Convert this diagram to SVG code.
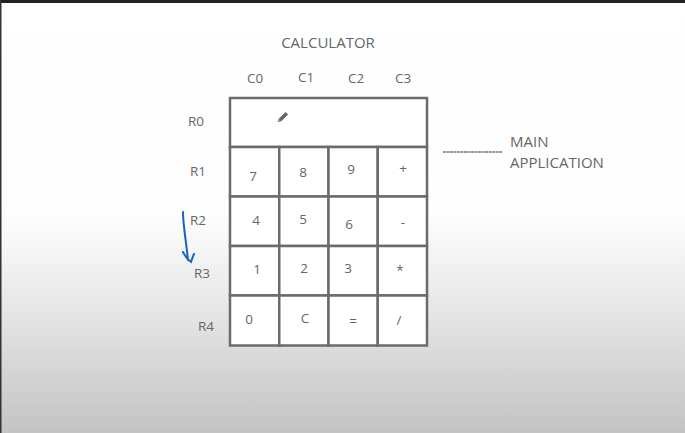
<svg xmlns="http://www.w3.org/2000/svg" width="685" height="433" viewBox="0 0 685 433">
<defs>
<linearGradient id="bg" x1="0" y1="0" x2="0" y2="1">
<stop offset="0" stop-color="#ffffff"/>
<stop offset="0.5" stop-color="#fdfdfd"/>
<stop offset="0.7" stop-color="#e8e8e8"/>
<stop offset="1" stop-color="#c3c3c3"/>
</linearGradient>
<style>
.t{font-family:"Open Sans","Liberation Sans",sans-serif;fill:#666;font-size:13.5px;text-anchor:middle}
.h{font-size:15px}
.c{fill:#ffffff;stroke:#6b6b6b;stroke-width:2.5}
</style>
</defs>
<rect x="0" y="0" width="685" height="433" fill="url(#bg)"/>
<rect x="0" y="0" width="685" height="3" fill="#222"/>
<rect x="0" y="0" width="1.5" height="433" fill="#333"/>

<g id="title"><text class="t h" x="328" y="48">CALCULATOR</text></g>
<g id="col-labels">
<text class="t" x="255" y="83">C0</text>
<text class="t" x="306" y="82">C1</text>
<text class="t" x="356" y="83">C2</text>
<text class="t" x="403" y="83">C3</text>
</g>
<g id="row-labels">
<text class="t" x="196" y="126">R0</text>
<text class="t" x="198" y="176">R1</text>
<text class="t" x="198" y="225">R2</text>
<text class="t" x="202" y="278">R3</text>
<text class="t" x="206" y="331">R4</text>
</g>

<g id="display"><rect class="c" x="230" y="98" width="197" height="49"/></g>
<g id="pencil" transform="translate(284 116) rotate(-45)">
<rect x="-6" y="-1.8" width="10" height="3.6" fill="#666"/>
<path d="M-6,-1.8 L-9,0 L-6,1.8Z" fill="#888"/>
</g>

<g id="cell-7"><rect class="c" x="230" y="147" width="49.25" height="49.5"/><text class="t" x="253" y="181">7</text></g>
<g id="cell-8"><rect class="c" x="279.25" y="147" width="49.25" height="49.5"/><text class="t" x="303" y="177">8</text></g>
<g id="cell-9"><rect class="c" x="328.5" y="147" width="49.25" height="49.5"/><text class="t" x="351" y="174">9</text></g>
<g id="cell-plus"><rect class="c" x="377.75" y="147" width="49.25" height="49.5"/><text class="t" x="403" y="173">+</text></g>

<g id="cell-4"><rect class="c" x="230" y="196.5" width="49.25" height="49.5"/><text class="t" x="256" y="225">4</text></g>
<g id="cell-5"><rect class="c" x="279.25" y="196.5" width="49.25" height="49.5"/><text class="t" x="303" y="224">5</text></g>
<g id="cell-6"><rect class="c" x="328.5" y="196.5" width="49.25" height="49.5"/><text class="t" x="349" y="229">6</text></g>
<g id="cell-minus"><rect class="c" x="377.75" y="196.5" width="49.25" height="49.5"/><text class="t" x="403" y="227">-</text></g>

<g id="cell-1"><rect class="c" x="230" y="246" width="49.25" height="49.5"/><text class="t" x="257" y="274">1</text></g>
<g id="cell-2"><rect class="c" x="279.25" y="246" width="49.25" height="49.5"/><text class="t" x="304" y="273">2</text></g>
<g id="cell-3"><rect class="c" x="328.5" y="246" width="49.25" height="49.5"/><text class="t" x="348" y="273">3</text></g>
<g id="cell-mul"><rect class="c" x="377.75" y="246" width="49.25" height="49.5"/><text class="t" x="400" y="275">*</text></g>

<g id="cell-0"><rect class="c" x="230" y="295.5" width="49.25" height="50"/><text class="t" x="249" y="324">0</text></g>
<g id="cell-C"><rect class="c" x="279.25" y="295.5" width="49.25" height="50"/><text class="t" x="305" y="323">C</text></g>
<g id="cell-eq"><rect class="c" x="328.5" y="295.5" width="49.25" height="50"/><text class="t" x="353" y="326">=</text></g>
<g id="cell-div"><rect class="c" x="377.75" y="295.5" width="49.25" height="50"/><text class="t" x="399" y="325">/</text></g>

<g id="connectors">
<line x1="443" y1="152" x2="502" y2="152" stroke="#777" stroke-width="1.3" stroke-dasharray="3 0.5"/>
<path d="M183,212 C183,225 186,240 188,260 M183,252 C185,256 188,260 191,262 C192,259 193,256 194,254" fill="none" stroke="#1565c0" stroke-width="2" stroke-linecap="round"/>
</g>

<g id="main-app">
<text class="t h" x="510" y="147" style="text-anchor:start">MAIN</text>
<text class="t h" x="510" y="168" style="text-anchor:start">APPLICATION</text>
</g>
</svg>
